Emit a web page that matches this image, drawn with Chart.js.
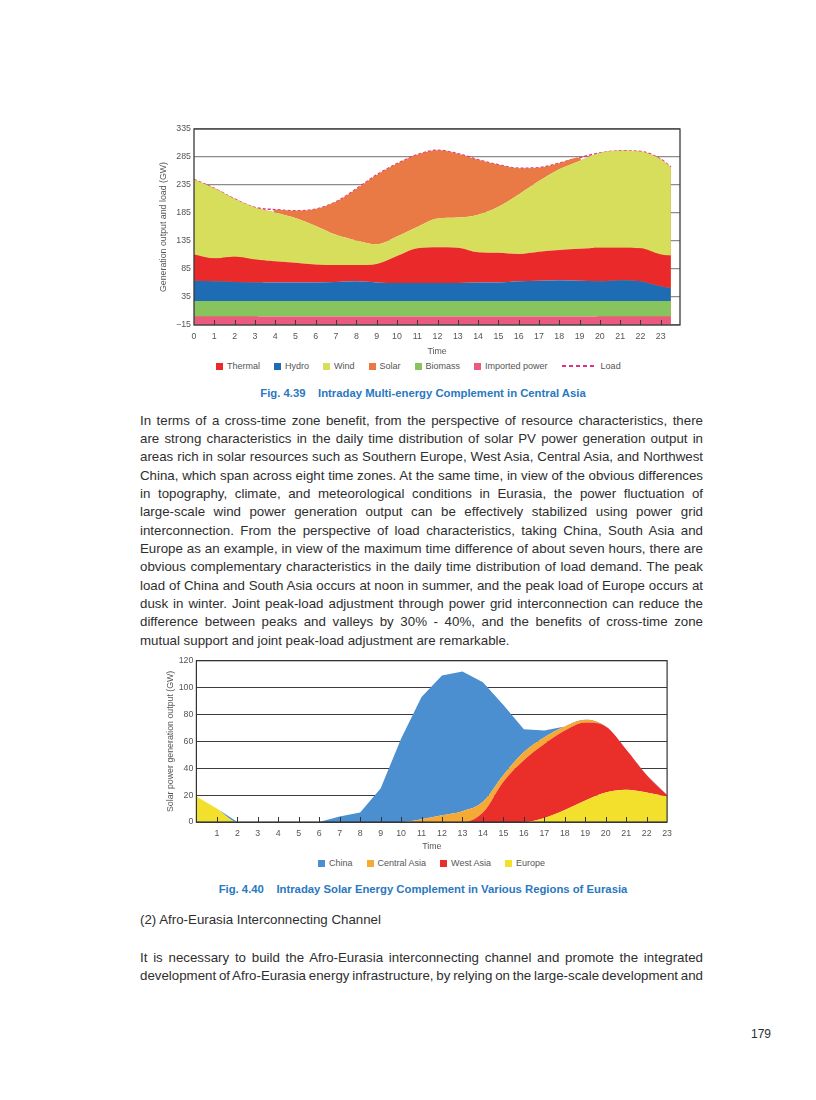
<!DOCTYPE html>
<html>
<head>
<meta charset="utf-8">
<script src="https://cdn.jsdelivr.net/npm/chart.js@4.4.1/dist/chart.umd.min.js"></script>
<style>
  body { margin: 0; background: #fff; font-family: "Liberation Sans", Arial, sans-serif; color: #2e2e2e; }
  #page { position: relative; width: 816px; height: 1100px; overflow: hidden; }
  .box { position: absolute; }
  .legend { position: absolute; display: flex; align-items: center; font-size: 9px; color: #555; white-space: nowrap; height: 10px; }
  .legend .item { display: flex; align-items: center; margin-right: 14px; }
  .legend .sw { width: 7px; height: 7px; margin-right: 4px; }
  .legend .dash { width: 33px; height: 1.5px; margin-right: 6px; }
  .caption { position: absolute; left: 0; width: 846px; text-align: center; font-weight: bold; font-size: 11.3px; color: #2a78bf; }
  .para { position: absolute; left: 140px; width: 563px; font-size: 13.3px; line-height: 18.33px; }
  .para div { text-align: justify; text-align-last: justify; }
  .para div.last { text-align-last: left; }
</style>
</head>
<body>
<div id="page">
  <div class="box" style="left:158px; top:119px; width:530px; height:240px;"><canvas id="caChart"></canvas></div>
  <div class="legend" id="caLegend" style="left:216px; top:361px;"></div>
  <div class="caption" style="top:387px;">Fig. 4.39&nbsp;&nbsp;&nbsp;&nbsp;Intraday Multi-energy Complement in Central Asia</div>

  <div class="para" style="top:411.8px;">
    <div>In terms of a cross-time zone benefit, from the perspective of resource characteristics, there</div>
    <div>are strong characteristics in the daily time distribution of solar PV power generation output in</div>
    <div>areas rich in solar resources such as Southern Europe, West Asia, Central Asia, and Northwest</div>
    <div>China, which span across eight time zones. At the same time, in view of the obvious differences</div>
    <div>in topography, climate, and meteorological conditions in Eurasia, the power fluctuation of</div>
    <div>large-scale wind power generation output can be effectively stabilized using power grid</div>
    <div>interconnection. From the perspective of load characteristics, taking China, South Asia and</div>
    <div>Europe as an example, in view of the maximum time difference of about seven hours, there are</div>
    <div>obvious complementary characteristics in the daily time distribution of load demand. The peak</div>
    <div>load of China and South Asia occurs at noon in summer, and the peak load of Europe occurs at</div>
    <div>dusk in winter. Joint peak-load adjustment through power grid interconnection can reduce the</div>
    <div>difference between peaks and valleys by 30% - 40%, and the benefits of cross-time zone</div>
    <div class="last">mutual support and joint peak-load adjustment are remarkable.</div>
  </div>

  <div class="box" style="left:165px; top:650px; width:513px; height:204px;"><canvas id="eaChart"></canvas></div>
  <div class="legend" id="eaLegend" style="left:318px; top:858px;"></div>
  <div class="caption" style="top:883px;">Fig. 4.40&nbsp;&nbsp;&nbsp;&nbsp;Intraday Solar Energy Complement in Various Regions of Eurasia</div>

  <div class="para" style="top:911px;"><div class="last">(2) Afro-Eurasia Interconnecting Channel</div></div>
  <div class="para" style="top:948.8px;">
    <div>It is necessary to build the Afro-Eurasia interconnecting channel and promote the integrated</div>
    <div>development of Afro-Eurasia energy infrastructure, by relying on the large-scale development and</div>
  </div>
  <div style="position:absolute; right:45px; top:1027px; font-size:12px;">179</div>
</div>

<script>
// Fig. 4.39 数据（GW），按小时
const caHours = [0, 1, 2, 3, 4, 5, 6, 7, 8, 9, 10, 11, 12, 13, 14, 15, 16, 17, 18, 19, 20, 21, 22, 23, 23.5];
const caTicks = [0, 1, 2, 3, 4, 5, 6, 7, 8, 9, 10, 11, 12, 13, 14, 15, 16, 17, 18, 19, 20, 21, 22, 23];
const importedPower = [-14, -14, -14, -14, -14, -14, -14, -14, -14, -14, -14, -14, -14, -14, -14, -14, -14, -14, -14, -14, -14, -14, -14, -14, -14];
const biomass = [28, 28, 28, 28, 28, 28, 28, 28, 28, 28, 28, 28, 28, 28, 28, 28, 28, 28, 28, 28, 28, 28, 28, 28, 28];
const hydro = [36, 35, 34, 33, 33, 33, 33, 34, 35, 33, 32, 32, 32, 32, 33, 33, 35, 36, 37, 36, 35, 37, 35, 26, 23];
const thermal = [47, 41, 45, 41, 38, 35, 32, 30, 29, 33, 48, 62, 64, 63, 54, 53, 49, 52, 54, 57, 60, 58, 59, 57, 58];
const wind = [134, 125, 103, 93, 87, 80, 69, 54, 44, 35, 35, 38, 51, 54, 67, 82, 106, 126, 144, 157, 169, 173, 173, 170, 158];
const solar = [0, 0, 0, 0, 5, 13, 30, 59, 92, 124, 130, 129, 122, 114, 98, 75, 47, 24, 11, 6, 0, 0, 0, 0, 0];
const load = [245, 229, 210, 195, 191, 189, 192, 205, 228, 253, 273, 289, 297, 291, 280, 271, 265, 266, 274, 284, 292, 296, 295, 281, 267];
const caLegendOrder = ['Thermal', 'Hydro', 'Wind', 'Solar', 'Biomass', 'Imported power', 'Load'];

// Fig. 4.40 数据（GW）
const eaHours = [0, 1, 2, 3, 4, 5, 6, 7, 8, 9, 10, 11, 12, 13, 14, 15, 16, 17, 18, 19, 20, 21, 22, 23];
const europe = [19, 10, 0, 0, 0, 0, 0, 0, 0, 0, 0, 0, 0, 0, 0, 0, 0, 3, 9, 16, 22, 24, 22, 19];
const westAsia = [0, 0, 0, 0, 0, 0, 0, 0, 0, 0, 0, 0, 0, 0, 7, 30, 46, 55, 59, 58, 49, 30, 13, 1];
const centralAsia = [0, 0, 0, 0, 0, 0, 0, 0, 0, 0, 0, 2, 5, 8, 8, 5, 6, 5, 3, 2, 0, 0, 0, 0];
const china = [0, 0, 0, 0, 0, 0, 0, 4, 7, 25, 62, 91, 104, 104, 89, 52, 17, 5, 0, 0, 0, 0, 0, 0];
const eaLegendOrder = ['China', 'Central Asia', 'West Asia', 'Europe'];

Chart.defaults.font.family = '"Liberation Sans", Arial, sans-serif';
Chart.defaults.font.size = 8.8;
Chart.defaults.color = '#555';

const pts = (xs, ys) => xs.map((x, i) => ({ x: x, y: ys[i] }));

// 边框和朝内的刻度
const frameAndTicks = {
  id: 'frameAndTicks',
  afterDatasetsDraw(chart, args, opts) {
    const { ctx, chartArea: a, scales: { x } } = chart;
    ctx.save();
    ctx.strokeStyle = opts.color;
    ctx.lineWidth = 1;
    ctx.beginPath();
    x.ticks.forEach(t => {
      const px = Math.round(x.getPixelForValue(t.value)) + 0.5;
      if (px <= a.left + 1 || px >= a.right - 1) return;
      ctx.moveTo(px, a.bottom);
      ctx.lineTo(px, a.bottom - opts.tick);
    });
    ctx.stroke();
    ctx.lineWidth = opts.width;
    ctx.strokeRect(a.left, a.top, a.right - a.left, a.bottom - a.top);
    ctx.restore();
  }
};

function area(label, data, color, fill, extra) {
  return Object.assign({ label, data, backgroundColor: color, borderColor: color, borderWidth: 0,
    pointRadius: 0, fill, cubicInterpolationMode: 'monotone' }, extra || {});
}

const caChart = new Chart(document.getElementById('caChart'), {
  type: 'line',
  data: {
    datasets: [
      area('Imported power', pts(caHours, importedPower), '#ea5a7e', 'origin'),
      area('Biomass', pts(caHours, biomass), '#88c45e', 'origin'),
      area('Hydro', pts(caHours, hydro), '#1e6cb4', '-1'),
      area('Thermal', pts(caHours, thermal), '#ea2a2a', '-1'),
      area('Wind', pts(caHours, wind), '#d6de5c', '-1'),
      area('Solar', pts(caHours, solar), '#e97a45', '-1'),
      { label: 'Load', data: pts(caHours, load), stack: 'load', borderColor: '#e0307e', backgroundColor: '#e0307e',
        borderWidth: 1.5, borderDash: [3, 2], pointRadius: 0, fill: false, cubicInterpolationMode: 'monotone' }
    ]
  },
  options: {
    responsive: true,
    maintainAspectRatio: false,
    animation: false,
    layout: { padding: { top: 10, right: 8, bottom: 0, left: 0 } },
    plugins: {
      legend: { display: false },
      tooltip: { enabled: false },
      frameAndTicks: { color: '#3a3a3a', width: 1.3, tick: 5 }
    },
    scales: {
      x: {
        type: 'linear', min: 0, max: 23.95,
        afterBuildTicks: s => { s.ticks = caTicks.map(v => ({ value: v })); },
        afterFit: s => { s.height = 34; },
        grid: { display: false, drawTicks: false },
        border: { display: false },
        ticks: { autoSkip: false, maxRotation: 0, padding: 6 },
        title: { display: true, text: 'Time', padding: { top: 0, bottom: 2 } }
      },
      y: {
        stacked: true, min: -15, max: 335,
        ticks: { stepSize: 50, padding: 3, callback: v => (v < 0 ? '\u2212' : '') + Math.abs(v) },
        afterFit: s => { s.width = 36; },
        grid: { color: '#8c8c8c', lineWidth: 1.2, drawTicks: false },
        border: { display: false },
        title: { display: true, text: 'Generation output and load (GW)', padding: { top: 0, bottom: 0 } }
      }
    }
  },
  plugins: [frameAndTicks]
});

const eaChart = new Chart(document.getElementById('eaChart'), {
  type: 'line',
  data: {
    datasets: [
      area('Europe', pts(eaHours, europe), '#f3e02c', 'origin'),
      area('West Asia', pts(eaHours, westAsia), '#ea2f2a', '-1'),
      area('Central Asia', pts(eaHours, centralAsia), '#f6aa36', '-1'),
      area('China', pts(eaHours, china), '#4b8fd0', '-1', { cubicInterpolationMode: 'default', tension: 0 })
    ]
  },
  options: {
    responsive: true,
    maintainAspectRatio: false,
    animation: false,
    layout: { padding: { top: 10.7, right: 8, bottom: 0, left: 0 } },
    plugins: {
      legend: { display: false },
      tooltip: { enabled: false },
      frameAndTicks: { color: '#333', width: 1.2, tick: 5 }
    },
    scales: {
      x: {
        type: 'linear', min: 0, max: 23,
        afterBuildTicks: s => { s.ticks = eaHours.map(v => ({ value: v })); },
        afterFit: s => { s.height = 32; },
        grid: { display: false, drawTicks: false },
        border: { display: false },
        ticks: { autoSkip: false, maxRotation: 0, padding: 6, callback: v => (v === 0 ? '' : v) },
        title: { display: true, text: 'Time', padding: { top: 0, bottom: 2 } }
      },
      y: {
        stacked: true, min: 0, max: 120,
        ticks: { stepSize: 20, padding: 3 },
        afterFit: s => { s.width = 31.4; },
        grid: { color: '#3c3c3c', lineWidth: 1, drawTicks: false },
        border: { display: false },
        title: { display: true, text: 'Solar power generation output (GW)', padding: { top: 0, bottom: 0 } }
      }
    }
  },
  plugins: [frameAndTicks]
});

// 图例
function buildLegend(chart, order, el) {
  order.forEach(name => {
    const ds = chart.data.datasets.find(d => d.label === name);
    const item = document.createElement('div');
    item.className = 'item';
    const sw = document.createElement('span');
    if (ds.borderDash) {
      sw.className = 'dash';
      sw.style.background = `repeating-linear-gradient(to right, ${ds.borderColor} 0 4px, transparent 4px 7px)`;
    } else {
      sw.className = 'sw';
      sw.style.background = ds.backgroundColor;
    }
    item.appendChild(sw);
    item.appendChild(document.createTextNode(name));
    el.appendChild(item);
  });
}
buildLegend(caChart, caLegendOrder, document.getElementById('caLegend'));
buildLegend(eaChart, eaLegendOrder, document.getElementById('eaLegend'));

// 防止两端对齐的行被折行
document.querySelectorAll('.para div').forEach(el => {
  let ws = 0;
  while (el.offsetHeight > 20 && ws > -3) {
    ws -= 0.2;
    el.style.wordSpacing = ws + 'px';
  }
});
</script>
</body>
</html>
